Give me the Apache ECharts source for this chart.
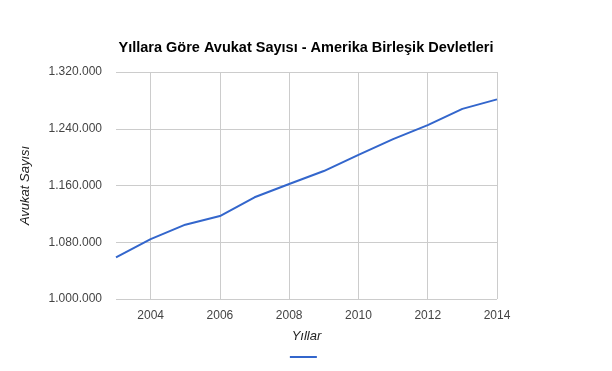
<!DOCTYPE html>
<html><head><meta charset="utf-8">
<script src="https://cdn.jsdelivr.net/npm/echarts@6/dist/echarts.min.js"></script>
<style>html,body{margin:0;padding:0;background:#fff}#c{width:612px;height:371px}</style>
</head><body><div id="c"></div>
<script>
const years = ['2003','2004','2005','2006','2007','2008','2009','2010','2011','2012','2013','2014'];
const lawyers = [1058662,1084504,1104766,1116967,1143358,1162124,1180386,1203097,1225452,1245205,1268011,1281432];
const titleText = 'Yıllara Göre Avukat Sayısı - Amerika Birleşik Devletleri';
const yName = 'Avukat Sayısı';
const xName = 'Yıllar';

const fmt = v => String(v).replace(/\B(?=(\d{3})+(?!\d))/g, '.');
const chart = echarts.init(document.getElementById('c'));
chart.setOption({
  animation: false,
  title: {text: titleText, left: 'center', top: 35,
    textStyle: {fontFamily: 'Liberation Sans, Arial', fontSize: 14.5, fontWeight: 'bold', color: '#000'}},
  grid: {left: 116, right: 115, top: 72, bottom: 72},
  legend: {bottom: 8, left: 'center', icon: 'rect', itemWidth: 27, itemHeight: 2,
    data: [{name: ' '}], textStyle: {fontSize: 1}, itemGap: 0},
  xAxis: {type: 'category', data: years, boundaryGap: false,
    name: xName, nameLocation: 'middle', nameGap: 31,
    nameTextStyle: {fontFamily: 'Liberation Sans, Arial', fontStyle: 'italic', fontSize: 13, color: '#222'},
    axisLine: {show: false}, axisTick: {show: false},
    axisLabel: {interval: (i) => i % 2 === 1, margin: 11, fontFamily: 'Liberation Sans, Arial', fontSize: 12, color: '#444'},
    splitLine: {show: true, interval: (i) => i % 2 === 1, lineStyle: {color: '#cccccc', width: 1}}},
  yAxis: {type: 'value', min: 1000000, max: 1320000, interval: 80000,
    name: yName, nameLocation: 'middle', nameGap: 84,
    nameTextStyle: {fontFamily: 'Liberation Sans, Arial', fontStyle: 'italic', fontSize: 13, color: '#222'},
    axisLine: {show: false}, axisTick: {show: false},
    axisLabel: {formatter: fmt, margin: 14, fontFamily: 'Liberation Sans, Arial', fontSize: 12, color: '#444'},
    splitLine: {lineStyle: {color: '#cccccc', width: 1}}},
  series: [{name: ' ', type: 'line', data: lawyers, showSymbol: false, symbol: 'none',
    lineStyle: {color: '#3366cc', width: 2}, itemStyle: {color: '#3366cc'}}]
});
</script></body></html>
